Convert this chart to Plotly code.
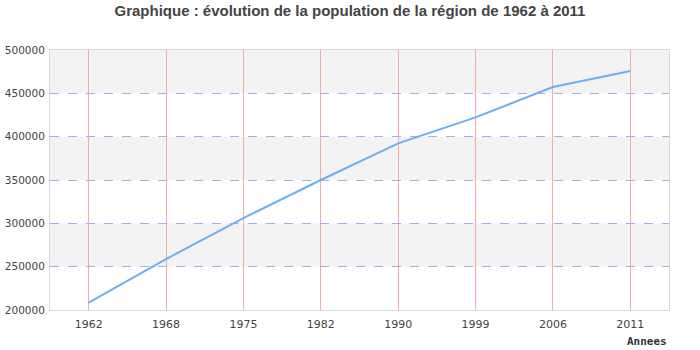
import plotly.graph_objects as go

years = ["1962", "1968", "1975", "1982", "1990", "1999", "2006", "2011"]
population = [208500, 258800, 306000, 350000, 392300, 422300, 457300, 475800]
y_ticks = [200000, 250000, 300000, 350000, 400000, 450000, 500000]

fig = go.Figure()
fig.add_trace(go.Scatter(x=years, y=population, mode="lines",
                         line=dict(color="#6cb0f2", width=2), hoverinfo="x+y"))

shapes = []
for i in range(len(y_ticks) - 1):
    shapes.append(dict(type="rect", xref="x domain", yref="y", x0=0, x1=1,
                       y0=y_ticks[i], y1=y_ticks[i + 1],
                       fillcolor="#f3f3f3" if i % 2 == 1 else "#ffffff",
                       line=dict(width=0), layer="below"))

fig.update_layout(
    width=700, height=350,
    margin=dict(l=50, r=31, t=50, b=40),
    paper_bgcolor="white", plot_bgcolor="white",
    showlegend=False,
    shapes=shapes,
    title=dict(text="Graphique : évolution de la population de la région de 1962 à 2011",
               x=0.5, xanchor="center", y=0.97, yanchor="middle",
               font=dict(family="Liberation Sans, Arial", size=15, color="#444444", weight="bold")),
    font=dict(family="DejaVu Sans", size=11, color="#444444"),
    annotations=[dict(text="<b>Annees</b>", xref="paper", yref="paper", x=1.0, y=-0.123,
                      xanchor="right", yanchor="middle", showarrow=False,
                      font=dict(family="DejaVu Sans Mono", size=11, color="#333333"))],
)
fig.update_xaxes(type="category", range=[-0.5, len(years) - 0.5], automargin=False,
                 showgrid=True, gridcolor="#f7a9a9", gridwidth=1,
                 showline=True, linecolor="#d9d9d9", linewidth=1, mirror=True,
                 ticks="", ticklabelstandoff=4)
fig.update_yaxes(range=[y_ticks[0], y_ticks[-1]], tickvals=y_ticks, tickformat="d",
                 automargin=False, tickfont=dict(size=10.5),
                 showgrid=True, gridcolor="#aaaaf2", griddash="dash", gridwidth=1,
                 zeroline=False,
                 showline=True, linecolor="#d9d9d9", linewidth=1, mirror=True,
                 ticks="", ticklabelstandoff=2)

fig.write_html("out.html")
